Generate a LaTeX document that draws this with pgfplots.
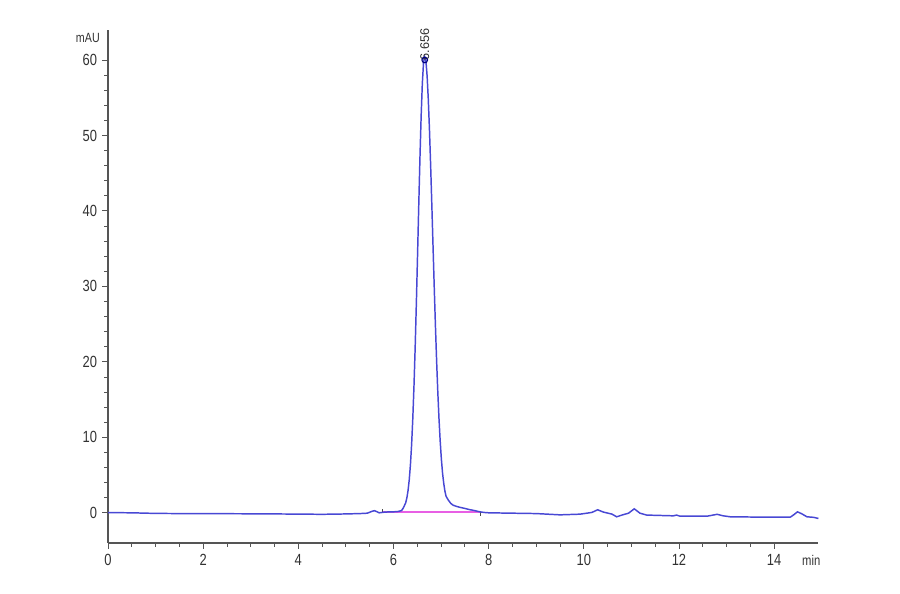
\documentclass[border=0pt]{standalone}
\usepackage{fontspec}
\setmainfont{Liberation Sans}[FakeStretch=0.8]
\newfontfamily\peakfont{Liberation Sans}
\usepackage{pgfplots}
\pgfplotsset{compat=1.18}

\definecolor{trace}{RGB}{72,72,212}
\definecolor{intbase}{RGB}{232,95,228}
\definecolor{axisgray}{RGB}{85,85,85}
\definecolor{labelgray}{RGB}{50,50,50}

\begin{document}
\begin{tikzpicture}
\useasboundingbox (-2.7,-1.275) rectangle (19.8,13.575);
\begin{axis}[
    at={(0,0)}, anchor=south west,
    scale only axis,
    width=17.76cm, height=12.83cm,
    xmin=0, xmax=14.93,
    ymin=-4, ymax=64,
    axis x line=bottom, axis y line=left,
    axis line style={axisgray, -, line width=0.85pt},
    xtick={0,2,...,14},
    ytick={0,10,...,60},
    minor x tick num=3,
    minor y tick num=4,
    tick align=outside,
    tick style={axisgray, line width=0.65pt},
    major tick length=0.15cm,
    minor tick length=0.09cm,
    /pgf/number format/assume math mode=true,
    ticklabel style={font=\fontsize{11.5}{13}\selectfont, text=labelgray},
    clip=false,
]
% integration baseline and event marks
\addplot[intbase, line width=1pt] coordinates {(5.77,0.1) (7.82,0.1)};
\addplot[black!70, line width=0.6pt] coordinates {(5.77,0.0) (5.77,0.55)};
\addplot[black!70, line width=0.6pt] coordinates {(7.82,0.15) (7.82,-0.4)};

% chromatogram trace
\addplot[trace, line width=1.05pt] coordinates {
(0.0,0.03) (0.5,0.0) (1.0,-0.08) (1.5,-0.1) (2.0,-0.12) (2.5,-0.12)
(3.0,-0.13) (3.5,-0.15) (4.0,-0.17) (4.5,-0.2) (5.0,-0.15) (5.3,-0.1)
(5.45,-0.05) (5.55,0.2) (5.6,0.28) (5.65,0.15) (5.7,0.0) (5.8,0.08)
(5.9,0.12) (6.0,0.13) (6.1,0.18) (6.17,0.3)
(6.206,0.64) (6.256,1.32) (6.281,1.97) (6.306,2.95) (6.331,4.38)
(6.356,6.37) (6.381,9.06) (6.406,12.55) (6.431,16.88) (6.456,22.03)
(6.481,27.9) (6.506,34.27) (6.531,40.78) (6.556,47.02) (6.581,52.54)
(6.606,56.87) (6.631,59.65) (6.656,60.4)
(6.681,59.89) (6.706,57.94) (6.731,54.83) (6.756,50.76) (6.781,45.97)
(6.806,40.73) (6.831,35.30) (6.856,29.94) (6.881,24.85) (6.906,20.18)
(6.931,16.04) (6.956,12.5) (6.981,9.53) (7.006,7.13) (7.031,5.24)
(7.056,3.9) (7.081,2.86) (7.106,2.17) (7.156,1.65) (7.206,1.23)
(7.256,1.0) (7.33,0.84) (7.4,0.72) (7.5,0.58) (7.6,0.42) (7.7,0.3)
(7.8,0.15) (7.9,0.05) (8.0,0.0) (8.5,-0.05) (9.0,-0.1) (9.5,-0.27)
(9.92,-0.18) (10.17,0.05) (10.29,0.4) (10.41,0.1) (10.59,-0.17)
(10.69,-0.53) (10.8,-0.3) (10.94,-0.05) (11.06,0.53) (11.18,-0.05)
(11.32,-0.3) (11.6,-0.35) (11.88,-0.4) (11.95,-0.3) (12.02,-0.45)
(12.59,-0.45) (12.8,-0.2) (12.93,-0.4) (13.08,-0.53) (13.71,-0.57)
(14.34,-0.57) (14.41,-0.27) (14.49,0.13) (14.58,-0.13) (14.69,-0.53)
(14.83,-0.6) (14.93,-0.75)
};

% apex marker
\addplot[only marks, mark=o, mark size=2pt, mark options={draw=black!50!blue, line width=0.8pt}]
    coordinates {(6.656,60.0)};

\node[rotate=90, anchor=west, inner sep=0pt, text=labelgray,
      font=\peakfont\fontsize{9}{10}\selectfont] at (axis cs:6.656,59.9) {6.656};
\node[anchor=east, inner sep=0pt, text=labelgray,
      font=\fontsize{9.5}{11}\selectfont] at (axis cs:0,62.9) [xshift=-0.2cm] {mAU};
\node[inner sep=0pt, text=labelgray,
      font=\fontsize{10}{12}\selectfont] at (axis cs:14.78,-4) [yshift=-0.44cm] {min};
\end{axis}
\end{tikzpicture}
\end{document}
